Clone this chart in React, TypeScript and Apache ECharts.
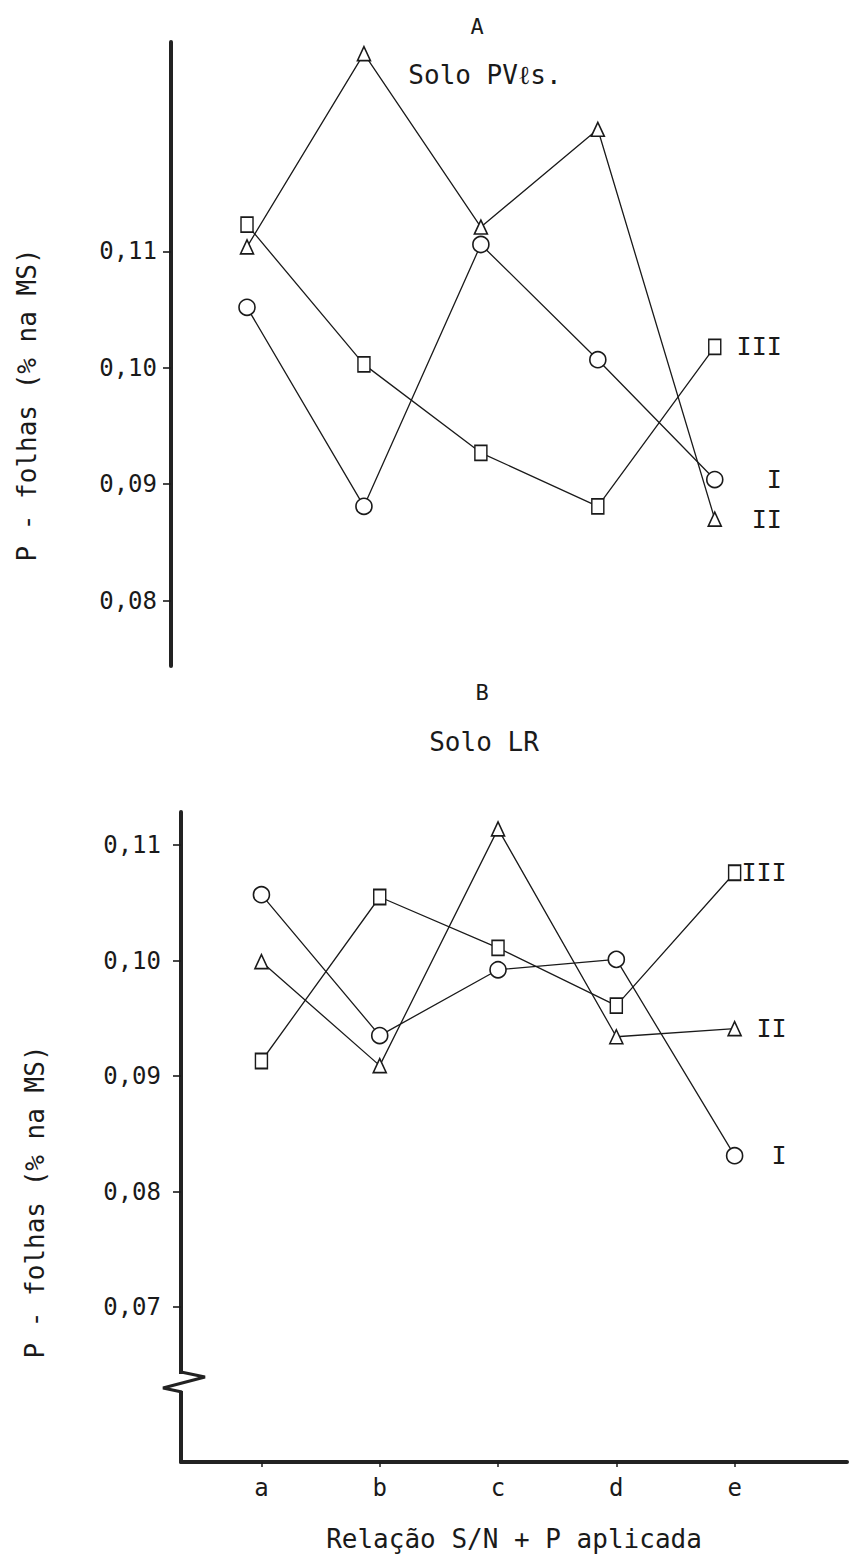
import React, { useEffect, useRef } from "react";
import * as echarts from "echarts";

// ---- data ----
const categories = ["a", "b", "c", "d", "e"];
const seriesNames = ["I", "II", "III"];
// Panel A – Solo PVℓs.
const topI = [0.1052, 0.0881, 0.1106, 0.1007, 0.0904];
const topII = [0.1104, 0.127, 0.1121, 0.1205, 0.087];
const topIII = [0.1123, 0.1003, 0.0927, 0.0881, 0.1018];
// Panel B – Solo LR
const botI = [0.1057, 0.0935, 0.0992, 0.1001, 0.0831];
const botII = [0.0999, 0.0909, 0.1114, 0.0934, 0.0941];
const botIII = [0.0913, 0.1055, 0.1011, 0.0961, 0.1076];
const yTicksTop = [0.08, 0.09, 0.1, 0.11];
const yTicksBottom = [0.07, 0.08, 0.09, 0.1, 0.11];
const catIndex = [0, 1, 2, 3, 4];

const FONT = "'DejaVu Sans Mono', monospace";
const INK = "#1a1a1a";

const fmt = (v: number) => v.toFixed(2).replace(".", ",");

function makeSeries(
  name: string,
  values: number[],
  axisIdx: number,
  symbol: string,
  symbolSize: number | number[],
  labelDist: number,
  labelWidth: number
) {
  return {
    type: "line",
    name,
    xAxisIndex: axisIdx,
    yAxisIndex: axisIdx,
    data: values.map((v, i) => [catIndex[i], v]),
    symbol,
    symbolSize,
    showAllSymbol: true,
    lineStyle: { color: INK, width: 1.3 },
    itemStyle: { color: "#fff", borderColor: INK, borderWidth: 1.6 },
    endLabel: {
      show: true,
      distance: labelDist,
      formatter: () => "{r|" + name + "}",
      rich: {
        r: {
          width: labelWidth,
          align: "right",
          fontFamily: FONT,
          fontSize: 25,
          color: INK,
        },
      },
    },
    emphasis: { disabled: true },
    z: 3,
  };
}

export default function App() {
  const ref = useRef<HTMLDivElement>(null);

  useEffect(() => {
    if (!ref.current) return;
    const chart = echarts.init(ref.current, undefined, { renderer: "svg" });

    const yAxisCommon = (ticks: number[], min: number, max: number, margin: number) => ({
      type: "value",
      min,
      max,
      splitLine: { show: false },
      axisLine: { show: true, onZero: false, lineStyle: { color: "#222", width: 4 } },
      axisTick: {
        show: true,
        customValues: ticks,
        length: 8,
        lineStyle: { color: INK, width: 1.6 },
      },
      axisLabel: {
        customValues: ticks,
        formatter: (v: number) => fmt(v),
        fontFamily: FONT,
        fontSize: 24,
        color: INK,
        margin,
      },
    });

    const option: any = {
      animation: false,
      backgroundColor: "#fff",
      grid: [
        { left: 171, top: 42, width: 649, height: 624 },
        { left: 181, top: 812, width: 666, height: 650 },
      ],
      xAxis: [
        {
          gridIndex: 0,
          type: "value",
          min: -0.65,
          max: 4.9,
          show: false,
        },
        {
          gridIndex: 1,
          type: "value",
          min: -0.68,
          max: 4.95,
          splitLine: { show: false },
          axisLine: { show: true, onZero: false, lineStyle: { color: "#222", width: 4 } },
          axisTick: {
            show: true,
            customValues: catIndex,
            length: 5,
            lineStyle: { color: INK, width: 1.5 },
          },
          axisLabel: {
            customValues: catIndex,
            formatter: (v: number) => categories[Math.round(v)] ?? "",
            fontFamily: FONT,
            fontSize: 24,
            color: INK,
            margin: 14,
          },
          name: "Relação S/N + P aplicada",
          nameLocation: "middle",
          nameGap: 64,
          nameTextStyle: { fontFamily: FONT, fontSize: 26, color: INK },
        },
      ],
      yAxis: [
        { gridIndex: 0, ...yAxisCommon(yTicksTop, 0.07438, 0.128, 14) },
        { gridIndex: 1, ...yAxisCommon(yTicksBottom, 0.05658, 0.11286, 20) },
      ],
      series: [
        makeSeries(seriesNames[0], topI, 0, "circle", 16, 10, 57),
        makeSeries(seriesNames[1], topII, 0, "triangle", [13, 14], 10, 57),
        makeSeries(seriesNames[2], topIII, 0, "rect", [12, 15], 10, 57),
        makeSeries(seriesNames[0], botI, 1, "circle", 16, 5, 47),
        makeSeries(seriesNames[1], botII, 1, "triangle", [13, 14], 5, 47),
        makeSeries(seriesNames[2], botIII, 1, "rect", [12, 15], 5, 47),
      ],
      graphic: [
        {
          type: "text",
          x: 477,
          y: 26,
          style: { text: "A", fontFamily: FONT, fontSize: 22, fill: INK, align: "center", verticalAlign: "middle" },
        },
        {
          type: "text",
          x: 485,
          y: 75,
          style: { text: "Solo PVℓs.", fontFamily: FONT, fontSize: 26, fill: INK, align: "center", verticalAlign: "middle" },
        },
        {
          type: "text",
          x: 482,
          y: 692,
          style: { text: "B", fontFamily: FONT, fontSize: 22, fill: INK, align: "center", verticalAlign: "middle" },
        },
        {
          type: "text",
          x: 484,
          y: 742,
          style: { text: "Solo LR", fontFamily: FONT, fontSize: 26, fill: INK, align: "center", verticalAlign: "middle" },
        },
        {
          type: "text",
          x: 27,
          y: 405,
          rotation: Math.PI / 2,
          style: {
            text: "P - folhas (% na MS)",
            fontFamily: FONT,
            fontSize: 26,
            fill: INK,
            align: "center",
            verticalAlign: "middle",
          },
        },
        {
          type: "text",
          x: 35,
          y: 1202,
          rotation: Math.PI / 2,
          style: {
            text: "P - folhas (% na MS)",
            fontFamily: FONT,
            fontSize: 26,
            fill: INK,
            align: "center",
            verticalAlign: "middle",
          },
        },
        // axis break on panel B
        {
          type: "rect",
          shape: { x: 176, y: 1374, width: 10, height: 17 },
          style: { fill: "#fff" },
          z: 100,
        },
        {
          type: "polyline",
          shape: {
            points: [
              [181, 1372],
              [205, 1377],
              [163, 1388],
              [182, 1392],
            ],
          },
          style: { stroke: "#222", lineWidth: 3, fill: null },
          z: 101,
        },
      ],
    };

    chart.setOption(option);
    return () => chart.dispose();
  }, []);

  return (
    <div
      ref={ref}
      style={{ position: "absolute", left: 0, top: 0, width: 851, height: 1558, background: "#fff" }}
    />
  );
}
